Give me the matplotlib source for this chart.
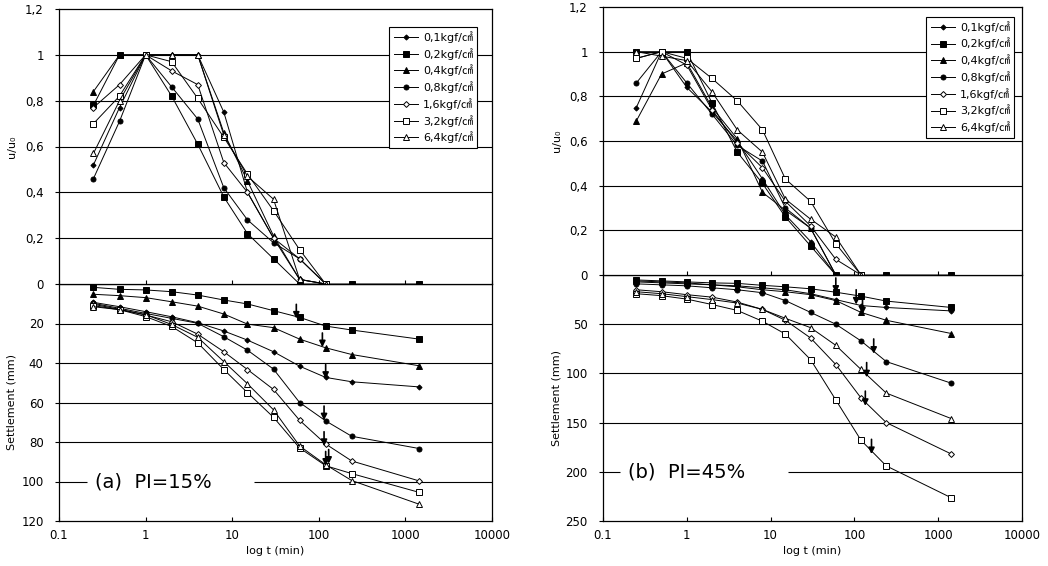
import numpy as np
import matplotlib
matplotlib.use("Agg")
import matplotlib.pyplot as plt

plt.rcParams['font.family'] = ['DejaVu Sans', 'Noto Sans CJK KR']

#%% data
t = [0.25, 0.5, 1, 2, 4, 8, 15, 30, 60, 120, 240, 1440]
loads = ['0,1', '0,2', '0,4', '0,8', '1,6', '3,2', '6,4']

# (a) PI=15%
u_a = [
    [0.52, 0.77, 1.00, 1.00, 1.00, 0.75, 0.40, 0.20, 0.02, 0.00],
    [0.78, 1.00, 1.00, 0.82, 0.61, 0.38, 0.22, 0.11, 0.00, 0.00, 0.00, 0.00],
    [0.84, 1.00, 1.00, 1.00, 1.00, 0.66, 0.45, 0.21, 0.02, 0.00],
    [0.46, 0.71, 1.00, 0.86, 0.72, 0.42, 0.28, 0.18, 0.11, 0.00],
    [0.77, 0.87, 1.00, 0.93, 0.87, 0.53, 0.40, 0.20, 0.11, 0.00],
    [0.70, 0.82, 1.00, 0.97, 0.81, 0.64, 0.48, 0.32, 0.15, 0.00],
    [0.57, 0.80, 1.00, 1.00, 1.00, 0.65, 0.47, 0.37, 0.02, 0.00],
]
s_a = [
    [9.3, 11.5, 14.0, 16.6, 19.6, 23.8, 28.4, 34.3, 41.6, 47.3, 49.5, 52.1],
    [1.7, 2.7, 3.0, 3.9, 5.6, 8.1, 10.1, 13.5, 16.9, 21.3, 23.3, 27.9],
    [5.2, 5.9, 6.9, 9.0, 11.2, 15.2, 20.3, 22.1, 27.9, 32.3, 35.7, 41.4],
    [9.8, 12.3, 14.9, 17.4, 19.9, 26.7, 33.5, 43.1, 60.0, 69.3, 77.1, 83.3],
    [10.3, 12.8, 15.7, 19.1, 25.4, 34.3, 43.3, 53.4, 69.0, 81.0, 89.6, 99.7],
    [11.0, 13.0, 16.5, 21.5, 29.8, 43.3, 55.0, 67.5, 83.0, 92.0, 96.0, 105.5],
    [11.5, 13.0, 15.5, 20.5, 27.0, 39.3, 50.5, 63.7, 82.0, 91.5, 99.5, 111.5],
]
arrows_a = [(55, 17.5), (110, 32), (120, 48), (115, 69), (115, 82), (120, 92), (130, 91)]

# (b) PI=45%
u_b = [
    [0.75, 1.00, 0.84, 0.73, 0.60, 0.43, 0.27, 0.15, 0.00],
    [1.00, 1.00, 1.00, 0.77, 0.55, 0.41, 0.26, 0.13, 0.00, 0.00, 0.00, 0.00],
    [0.69, 0.90, 0.95, 0.75, 0.61, 0.37, 0.29, 0.21, 0.00],
    [0.86, 1.00, 0.86, 0.72, 0.58, 0.51, 0.30, 0.21, 0.00],
    [0.97, 1.00, 0.94, 0.74, 0.59, 0.48, 0.33, 0.22, 0.07, 0.00],
    [0.97, 1.00, 0.97, 0.88, 0.78, 0.65, 0.43, 0.33, 0.14, 0.00],
    [1.00, 0.98, 0.96, 0.82, 0.65, 0.55, 0.34, 0.25, 0.17, 0.00],
]
s_b = [
    [7, 8, 9, 10, 11, 13, 15, 19, 25, 31, 33, 36.5],
    [5, 6, 7, 8, 8.5, 10.5, 12, 14, 17.5, 21.5, 26.5, 33],
    [6, 7, 8, 10, 12, 15, 17, 20, 26, 38, 46, 59.5],
    [9, 10, 11, 13, 15, 18, 26, 38, 50, 67, 88, 110],
    [15, 17, 20, 22.5, 27.5, 35, 46, 64, 91, 125, 150, 182],
    [19, 21, 24.5, 30, 36, 47, 60, 86, 127, 168, 194, 226.5],
    [17, 19, 22, 25, 28.5, 35, 44, 53.5, 71.5, 96, 120, 146],
]
arrows_b = [(60, 18), (105, 30), (125, 40), (170, 80), (140, 104), (135, 133), (160, 182)]

styles = [
    dict(marker='D', ms=2.6, mfc='k'),
    dict(marker='s', ms=4.2, mfc='k'),
    dict(marker='^', ms=4.2, mfc='k'),
    dict(marker='o', ms=3.6, mfc='k'),
    dict(marker='D', ms=3.0, mfc='w'),
    dict(marker='s', ms=3.8, mfc='w'),
    dict(marker='^', ms=4.0, mfc='w'),
]

xticks = [0.1, 1, 10, 100, 1000, 10000]
xlabels = ['0.1', '1', '10', '100', '1000', '10000']


def panel(ax_u, ax_s, u, s, arrows, smax, sstep, label, gap, text_x, text_y, legpos):
    for i in range(len(loads)):
        ax_u.plot(t[:len(u[i])], u[i], color='k', lw=0.7, mec='k', mew=0.7,
                  label=loads[i] + 'kgf/㎠', **styles[i])
        ax_s.plot(t, s[i], color='k', lw=0.7, mec='k', mew=0.7, **styles[i])
    for ax in (ax_u, ax_s):
        ax.set_xscale('log')
        ax.set_xlim(0.1, 10000)
        ax.set_xticks(xticks)
        ax.minorticks_off()
        ax.tick_params(axis='x', direction='in', length=3)
        ax.tick_params(axis='y', length=3, labelsize=8.5, pad=8)
        for sp in ax.spines.values():
            sp.set_linewidth(0.9)
    ax_u.set_ylim(0, 1.2)
    ax_u.set_yticks([0.2, 0.4, 0.6, 0.8, 1.0, 1.2])
    ax_u.set_yticklabels(['0,2', '0,4', '0,6', '0,8', '1', '1,2'])
    ax_u.set_xticklabels([])
    for y in [0.2, 0.4, 0.6, 0.8, 1.0]:
        ax_u.axhline(y, color='k', lw=0.8, zorder=0)
    ax_u.set_ylabel('u/u₀', fontsize=8)
    ax_u.yaxis.set_label_coords(-0.098, 0.5)
    ax_u.spines['bottom'].set_visible(False)

    yt = list(range(0, smax + 1, sstep))
    ax_s.set_ylim(smax, 0)
    ax_s.set_yticks(yt)
    ax_s.set_yticklabels([str(v) for v in yt])
    ax_s.set_xticklabels(xlabels, fontsize=8.5)
    ax_s.tick_params(axis='x', pad=6)
    for y in yt[1:-1]:
        if y == text_y:
            ax_s.hlines(y, 0.1, gap[0], color='k', lw=0.8, zorder=0)
            ax_s.hlines(y, gap[1], 10000, color='k', lw=0.8, zorder=0)
        else:
            ax_s.axhline(y, color='k', lw=0.8, zorder=0)
    ax_s.axhline(0, color='k', lw=0.9, zorder=0)
    ax_s.set_ylabel('Settlement (mm)', fontsize=8)
    ax_s.yaxis.set_label_coords(-0.098, 0.5)
    ax_s.set_xlabel('log t (min)', fontsize=8, labelpad=3)
    ax_s.text(text_x, text_y, label, fontsize=14, va='center', ha='left')

    for xa, ya in arrows:
        ax_s.annotate('', xy=(xa, ya), xytext=(xa, ya - 0.06 * smax),
                      arrowprops=dict(arrowstyle='-|>', color='k', lw=1.2,
                                      mutation_scale=9, shrinkA=0, shrinkB=0))

    leg = ax_u.legend(loc='upper right', bbox_to_anchor=legpos, fontsize=8,
                      frameon=True, fancybox=False, edgecolor='k',
                      framealpha=1, handlelength=2.2, labelspacing=0.45,
                      borderpad=0.4, handletextpad=0.4)
    leg.get_frame().set_linewidth(0.8)


fig = plt.figure(figsize=(10.48, 5.66), dpi=100)
W, H = 1048.0, 566.0
ax1u = fig.add_axes([59 / W, 1 - 284 / H, 433 / W, 275 / H])
ax1s = fig.add_axes([59 / W, 1 - 521 / H, 433 / W, 237 / H])
ax2u = fig.add_axes([603 / W, 1 - 275 / H, 419 / W, 268 / H])
ax2s = fig.add_axes([603 / W, 1 - 521 / H, 419 / W, 246 / H])

panel(ax1u, ax1s, u_a, s_a, arrows_a, 120, 20, '(a)  PI=15%', (0.21, 18),
      0.26, 100, (0.979, 0.956))
panel(ax2u, ax2s, u_b, s_b, arrows_b, 250, 50, '(b)  PI=45%', (0.16, 16),
      0.2, 200, (0.995, 0.985))

fig.savefig('out.png', dpi=100)
